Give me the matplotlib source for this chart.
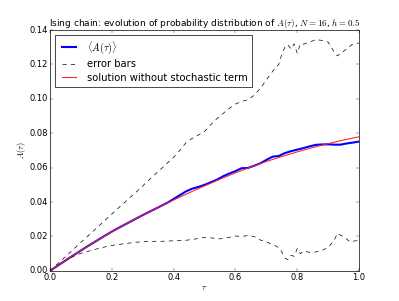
import numpy as np
import matplotlib
matplotlib.use('Agg')
import matplotlib.pyplot as plt

plt.style.use('classic')

# mean value <A(tau)>
tau_mean = [0.0, 0.02, 0.04, 0.06, 0.08, 0.10, 0.12, 0.14, 0.16, 0.18, 0.20,
            0.22, 0.24, 0.26, 0.28, 0.30, 0.32, 0.34, 0.36, 0.38, 0.40,
            0.42, 0.44, 0.46, 0.48, 0.50, 0.52, 0.54, 0.56, 0.58, 0.60,
            0.62, 0.64, 0.66, 0.68, 0.70, 0.72, 0.74, 0.76, 0.78, 0.80,
            0.82, 0.84, 0.86, 0.88, 0.90, 0.92, 0.94, 0.96, 0.98, 1.0]
a_mean = [0.0, 0.0024, 0.0048, 0.0072, 0.0095, 0.0118, 0.0141, 0.0163, 0.0185, 0.0207, 0.0228,
          0.0248, 0.0267, 0.0286, 0.0305, 0.0324, 0.0342, 0.0360, 0.0378, 0.0396, 0.0418,
          0.0440, 0.0462, 0.0478, 0.0488, 0.0500, 0.0515, 0.0530, 0.0550, 0.0566, 0.0580,
          0.0597, 0.0598, 0.0611, 0.0625, 0.0645, 0.0664, 0.0668, 0.0685, 0.0696, 0.0705,
          0.0714, 0.0724, 0.0733, 0.0735, 0.0736, 0.0734, 0.0734, 0.0741, 0.0746, 0.0752]

# upper error bar
tau_up = [0.0, 0.04, 0.08, 0.12, 0.16, 0.20, 0.24, 0.28, 0.32, 0.36, 0.40,
          0.42, 0.44, 0.46, 0.48, 0.50, 0.52, 0.54, 0.56, 0.58, 0.60,
          0.62, 0.64, 0.66, 0.68, 0.70, 0.72, 0.74, 0.75, 0.76, 0.77,
          0.78, 0.79, 0.80, 0.81, 0.82, 0.84, 0.86, 0.88, 0.90, 0.91,
          0.92, 0.93, 0.94, 0.96, 0.98, 1.0]
a_up = [0.0, 0.0066, 0.0132, 0.0198, 0.0264, 0.0330, 0.0396, 0.0460, 0.0528, 0.0594, 0.0660,
        0.0700, 0.0745, 0.0770, 0.0790, 0.0810, 0.0850, 0.0885, 0.0915, 0.0945, 0.0970,
        0.0985, 0.0995, 0.1020, 0.1060, 0.1110, 0.1160, 0.1200, 0.1260, 0.1300, 0.1315,
        0.1290, 0.1320, 0.1265, 0.1320, 0.1318, 0.1330, 0.1345, 0.1340, 0.1330, 0.1300,
        0.1270, 0.1250, 0.1265, 0.1290, 0.1320, 0.1325]

# lower error bar
tau_lo = [0.0, 0.02, 0.04, 0.06, 0.08, 0.10, 0.12, 0.14, 0.16, 0.18, 0.20,
          0.24, 0.28, 0.32, 0.36, 0.40, 0.44, 0.48, 0.50, 0.52, 0.55,
          0.58, 0.60, 0.62, 0.64, 0.66, 0.68, 0.70, 0.72, 0.74, 0.75,
          0.76, 0.77, 0.78, 0.79, 0.80, 0.81, 0.82, 0.84, 0.86, 0.88,
          0.90, 0.92, 0.93, 0.95, 0.97, 0.99, 1.0]
a_lo = [0.0, 0.0025, 0.0048, 0.0070, 0.0088, 0.0102, 0.0112, 0.0122, 0.0132, 0.0140, 0.0148,
        0.0158, 0.0167, 0.0172, 0.0172, 0.0175, 0.0178, 0.0188, 0.0195, 0.0192, 0.0186,
        0.0195, 0.0203, 0.0200, 0.0206, 0.0200, 0.0180, 0.0168, 0.0155, 0.0135, 0.0110,
        0.0075, 0.0065, 0.0090, 0.0085, 0.0130, 0.0100, 0.0115, 0.0108, 0.0110, 0.0120,
        0.0135, 0.0180, 0.0218, 0.0198, 0.0170, 0.0175, 0.0180]

# deterministic solution
tau_det = [0.0, 0.05, 0.10, 0.15, 0.20, 0.25, 0.30, 0.35, 0.40, 0.45, 0.50,
           0.55, 0.60, 0.65, 0.70, 0.75, 0.80, 0.85, 0.90, 0.95, 1.0]
a_det = [0.0, 0.0060, 0.0118, 0.0174, 0.0228, 0.0277, 0.0324, 0.0369, 0.0412, 0.0454, 0.0494,
         0.0533, 0.0570, 0.0604, 0.0636, 0.0665, 0.0692, 0.0717, 0.0740, 0.0761, 0.0780]

fig = plt.figure(figsize=(7.98, 6.02), dpi=50)
ax = fig.add_subplot(111)
ax.plot(tau_mean, a_mean, 'b-', lw=3, label=r'$\langle A(\tau)\rangle$')
ax.plot(tau_up, a_up, 'k--', label='error bars')
ax.plot(tau_lo, a_lo, 'k--')
ax.plot(tau_det, a_det, color='#ff2020', lw=1.5, label='solution without stochastic term')
ax.set_xlim(0, 1)
ax.set_ylim(0, 0.14)
ax.tick_params(pad=3)
ax.set_xlabel(r'$\tau$', labelpad=1)
ax.set_ylabel(r'$A(\tau)$', labelpad=2)
ax.set_title(r'Ising chain: evolution of probability distribution of $A(\tau)$, $N=16$, $h=0.5$',
             fontsize=13, pad=6)
ax.legend(loc='upper left', labelspacing=0.35, borderpad=0.4)
fig.savefig('out.png', dpi=50)
